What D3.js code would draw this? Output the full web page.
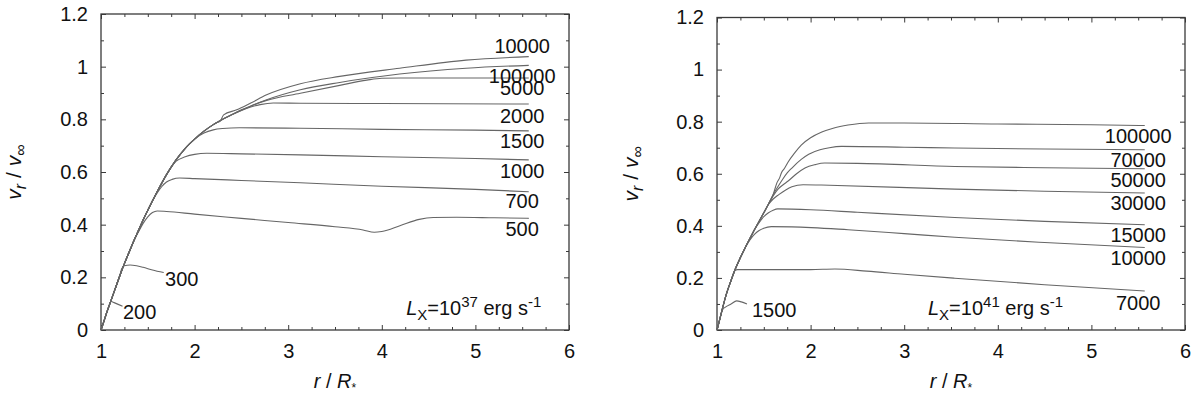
<!DOCTYPE html>
<html>
<head>
<meta charset="utf-8">
<script src="https://cdn.jsdelivr.net/npm/d3@7"></script>
<style>
  body { margin: 0; background: #fff; }
  text { font-family: "Liberation Sans", Arial, Helvetica, sans-serif; }
</style>
</head>
<body>
<svg id="chart" width="1200" height="398"></svg>
<script>
// axis ticks
var xTicks = [1, 2, 3, 4, 5, 6];
var yTicks = [0, 0.2, 0.4, 0.6, 0.8, 1, 1.2];

// left panel (Lx = 1e37), shared rising part then each curve's own branch
var leftRise = [[1,0],[1.03,0.032],[1.06,0.065],[1.1,0.105],[1.15,0.155],[1.2,0.205],[1.25,0.252],
  [1.3,0.295],[1.35,0.338],[1.4,0.378],[1.45,0.418],[1.5,0.455],[1.6,0.525],[1.7,0.59],[1.8,0.645],
  [1.9,0.69],[2.0,0.725],[2.1,0.755],[2.2,0.78],[2.25,0.79],[2.3,0.8]];

function upTo(rise, r) { return rise.filter(function (d) { return d[0] <= r; }); }

var L200 = [[1,0],[1.03,0.032],[1.06,0.065],[1.09,0.097],[1.11,0.108],[1.14,0.104],[1.23,0.09]];
var L300 = upTo(leftRise, 1.2).concat([[1.22,0.232],[1.25,0.244],[1.31,0.247],[1.38,0.244],[1.45,0.238],[1.55,0.228],[1.67,0.218]]);
var L500 = upTo(leftRise, 1.35).concat([[1.4,0.372],[1.45,0.405],[1.5,0.43],[1.55,0.446],[1.6,0.452],[1.7,0.45],
  [2.0,0.44],[2.5,0.424],[3.0,0.408],[3.5,0.392],[3.8,0.38],[3.92,0.371],[4.0,0.374],[4.2,0.397],[4.4,0.42],
  [4.55,0.427],[4.8,0.428],[5.2,0.426],[5.57,0.424]]);
var L700 = upTo(leftRise, 1.5).concat([[1.6,0.52],[1.65,0.545],[1.7,0.562],[1.76,0.572],[1.84,0.577],[2.0,0.575],
  [2.5,0.568],[3.13,0.559],[4,0.546],[5,0.534],[5.57,0.525]]);
var L1000 = upTo(leftRise, 1.7).concat([[1.8,0.64],[1.9,0.658],[2.0,0.667],[2.13,0.671],[2.5,0.669],[3.13,0.665],
  [4,0.658],[5,0.651],[5.57,0.646]]);
var L1500 = upTo(leftRise, 2.0).concat([[2.1,0.748],[2.2,0.76],[2.3,0.765],[2.48,0.768],[3.13,0.766],[4,0.762],
  [5,0.759],[5.57,0.756]]);
var L2000 = upTo(leftRise, 2.3).concat([[2.4,0.818],[2.5,0.834],[2.6,0.847],[2.7,0.856],[2.84,0.862],[3.13,0.861],
  [4,0.86],[5.57,0.858]]);
var L5000 = upTo(leftRise, 2.3).concat([[2.4,0.818],[2.5,0.836],[2.6,0.851],[2.77,0.872],[3.13,0.899],[3.55,0.929],
  [3.84,0.949],[4.0,0.956],[4.2,0.957],[5.57,0.957]]);
var L10000 = upTo(leftRise, 2.25).concat([[2.27,0.792],[2.31,0.817],[2.45,0.836],[2.6,0.862],[2.77,0.893],[3.13,0.935],
  [3.55,0.963],[4.19,0.994],[4.9,1.025],[5.57,1.038]]);
var L100000 = upTo(leftRise, 2.3).concat([[2.45,0.826],[2.6,0.85],[2.77,0.874],[3.13,0.912],[3.55,0.94],[4.19,0.972],
  [4.9,0.994],[5.57,1.005]]);

// curve labels: text, r, v (data units)
var leftLabelsEnd = [["10000",5.5,1.052],["100000",5.5,0.938],["5000",5.5,0.893],["2000",5.5,0.787],
  ["1500",5.5,0.691],["1000",5.5,0.577],["700",5.5,0.463],["500",5.5,0.357]];
var leftLabelsStart = [["300",1.684,0.167],["200",1.235,0.042]];

// right panel (Lx = 1e41)
var rightRise = [[1,0],[1.03,0.042],[1.06,0.085],[1.1,0.138],[1.15,0.19],[1.2,0.238],[1.25,0.278],[1.3,0.315],
  [1.35,0.35],[1.4,0.385],[1.45,0.418],[1.5,0.45],[1.55,0.484],[1.6,0.52]];

var R1500 = [[1,0],[1.03,0.042],[1.06,0.078],[1.09,0.088],[1.15,0.1],[1.21,0.112],[1.26,0.108],[1.32,0.1]];
var R7000 = upTo(rightRise, 1.15).concat([[1.19,0.228],[1.22,0.232],[1.5,0.232],[2.0,0.232],[2.26,0.234],[2.6,0.226],
  [3.0,0.214],[3.54,0.199],[4.5,0.174],[5.57,0.15]]);
var R10000 = upTo(rightRise, 1.3).concat([[1.35,0.345],[1.4,0.367],[1.45,0.382],[1.5,0.391],[1.58,0.397],[1.8,0.396],
  [2.4,0.385],[3.0,0.37],[3.54,0.356],[4.5,0.336],[5.57,0.317]]);
var R15000 = upTo(rightRise, 1.4).concat([[1.45,0.412],[1.5,0.435],[1.55,0.45],[1.6,0.46],[1.65,0.465],[2.0,0.462],
  [2.5,0.452],[3.54,0.432],[4.5,0.417],[5.57,0.404]]);
var R30000 = upTo(rightRise, 1.5).concat([[1.55,0.482],[1.6,0.503],[1.66,0.52],[1.73,0.537],[1.8,0.55],[1.92,0.558],
  [2.2,0.556],[3.54,0.541],[4.5,0.533],[5.57,0.526]]);
var R50000 = upTo(rightRise, 1.55).concat([[1.6,0.515],[1.65,0.54],[1.7,0.556],[1.76,0.572],[1.85,0.6],[1.94,0.622],
  [2.05,0.635],[2.15,0.641],[2.5,0.64],[3.54,0.628],[4.5,0.623],[5.57,0.619]]);
var R70000 = upTo(rightRise, 1.6).concat([[1.65,0.55],[1.7,0.578],[1.75,0.603],[1.8,0.622],[1.9,0.655],[1.98,0.675],
  [2.1,0.692],[2.2,0.7],[2.33,0.705],[3.0,0.702],[3.54,0.699],[4.5,0.695],[5.57,0.692]]);
var R100000 = upTo(rightRise, 1.6).concat([[1.64,0.565],[1.67,0.585],[1.69,0.605],[1.72,0.62],[1.76,0.645],[1.83,0.68],
  [1.9,0.71],[2.0,0.738],[2.12,0.76],[2.25,0.776],[2.4,0.787],[2.62,0.795],[3.0,0.795],[4,0.791],[5,0.788],[5.57,0.785]]);

var rightLabelsEnd = [["100000",5.5,0.718],["70000",5.5,0.627],["50000",5.5,0.55],["30000",5.5,0.461],
  ["15000",5.5,0.339],["10000",5.5,0.25],["7000",5.5,0.077]];
var rightLabelsStart = [["1500",1.374,0.051]];

var panels = [
  { left: 101, right: 569, top: 14, bottom: 330, ylabX: 21,
    series: [L200, L300, L500, L700, L1000, L1500, L2000, L5000, L10000, L100000],
    labelsEnd: leftLabelsEnd, labelsStart: leftLabelsStart, lumExp: "37", lumAt: [4.26, 0.057] },
  { left: 717, right: 1185, top: 17.5, bottom: 330, ylabX: 638,
    series: [R1500, R7000, R10000, R15000, R30000, R50000, R70000, R100000],
    labelsEnd: rightLabelsEnd, labelsStart: rightLabelsStart, lumExp: "41", lumAt: [3.254, 0.058] }
];

var svg = d3.select("#chart");
var frameColor = "#3a3a3a";
var fontSize = 20;

var xMinor = d3.range(1, 6.001, 0.25).filter(function (d) { return d % 1 !== 0; });
var yMinor = d3.range(0.1, 1.2, 0.2);

panels.forEach(function (p) {
  var x = d3.scaleLinear().domain([1, 6]).range([p.left, p.right]);
  var y = d3.scaleLinear().domain([0, 1.2]).range([p.bottom, p.top]);
  var g = svg.append("g");

  //ticks on all four sides, pointing in
  function addAxis(axis, tx, ty) {
    var a = g.append("g").attr("transform", "translate(" + tx + "," + ty + ")").call(axis);
    a.select(".domain").remove();
    a.selectAll("line").attr("stroke", frameColor);
    a.attr("font-size", fontSize).attr("font-family", null);
    a.selectAll("text").attr("fill", "#111");
    return a;
  }
  addAxis(d3.axisBottom(x).tickValues(xTicks).tickSizeInner(-5).tickSizeOuter(0).tickPadding(14)
    .tickFormat(d3.format("d")), 0, p.bottom);
  addAxis(d3.axisBottom(x).tickValues(xMinor).tickSize(-3).tickFormat(""), 0, p.bottom);
  addAxis(d3.axisTop(x).tickValues(xTicks).tickSize(-5).tickFormat(""), 0, p.top);
  addAxis(d3.axisTop(x).tickValues(xMinor).tickSize(-3).tickFormat(""), 0, p.top);
  addAxis(d3.axisLeft(y).tickValues(yTicks).tickSizeInner(-5).tickSizeOuter(0).tickPadding(13)
    .tickFormat(d3.format("~g")), p.left, 0);
  addAxis(d3.axisLeft(y).tickValues(yMinor).tickSize(-3).tickFormat(""), p.left, 0);
  addAxis(d3.axisRight(y).tickValues(yTicks).tickSize(-5).tickFormat(""), p.right, 0);
  addAxis(d3.axisRight(y).tickValues(yMinor).tickSize(-3).tickFormat(""), p.right, 0);

  // frame
  g.append("rect")
    .attr("x", p.left).attr("y", p.top)
    .attr("width", p.right - p.left).attr("height", p.bottom - p.top)
    .attr("fill", "none").attr("stroke", frameColor).attr("stroke-width", 1.3);

  // the curves
  var line = d3.line()
    .x(function (d) { return x(d[0]); })
    .y(function (d) { return y(d[1]); })
    .curve(d3.curveMonotoneX);

  g.selectAll(".curve").data(p.series).enter().append("path")
    .attr("class", "curve")
    .attr("d", line)
    .attr("fill", "none")
    .attr("stroke", "#666")
    .attr("stroke-width", 1.1);

  // curve labels
  g.selectAll(".lblEnd").data(p.labelsEnd).enter().append("text")
    .attr("x", function (d) { return x(d[1]); })
    .attr("y", function (d) { return y(d[2]); })
    .attr("text-anchor", "middle")
    .attr("font-size", fontSize)
    .attr("fill", "#111")
    .text(function (d) { return d[0]; });
  g.selectAll(".lblStart").data(p.labelsStart).enter().append("text")
    .attr("x", function (d) { return x(d[1]); })
    .attr("y", function (d) { return y(d[2]); })
    .attr("font-size", fontSize)
    .attr("fill", "#111")
    .text(function (d) { return d[0]; });

  // L_X annotation
  var lum = g.append("text")
    .attr("x", x(p.lumAt[0])).attr("y", y(p.lumAt[1]))
    .attr("font-size", fontSize).attr("fill", "#111");
  lum.append("tspan").attr("font-style", "italic").text("L");
  lum.append("tspan").attr("font-size", 15).attr("dy", 5).text("X");
  lum.append("tspan").attr("dy", -5).text("=10");
  lum.append("tspan").attr("font-size", 15).attr("dy", -8).text(p.lumExp);
  lum.append("tspan").attr("dy", 8).text(" erg s");
  lum.append("tspan").attr("font-size", 15).attr("dy", -8).text("-1");

  // x axis title
  var xt = g.append("text")
    .attr("x", (p.left + p.right) / 2).attr("y", p.bottom + 58)
    .attr("text-anchor", "middle").attr("font-size", fontSize).attr("fill", "#111");
  xt.append("tspan").attr("font-style", "italic").text("r");
  xt.append("tspan").text(" / ");
  xt.append("tspan").attr("font-style", "italic").text("R");
  xt.append("tspan").attr("font-size", 12).attr("dy", 4).text("*");

  // y axis title
  var yt = g.append("text")
    .attr("transform", "translate(" + p.ylabX + "," + ((p.top + p.bottom) / 2) + ") rotate(-90)")
    .attr("text-anchor", "middle").attr("font-size", 21).attr("fill", "#111");
  yt.append("tspan").attr("font-style", "italic").text("v");
  yt.append("tspan").attr("font-style", "italic").attr("font-size", 16).attr("dy", 5).text("r");
  yt.append("tspan").attr("dy", -5).text(" / ");
  yt.append("tspan").attr("font-style", "italic").text("v");
  yt.append("tspan").attr("font-size", 16).attr("dy", 5).text("\u221E");
});
</script>
</body>
</html>
